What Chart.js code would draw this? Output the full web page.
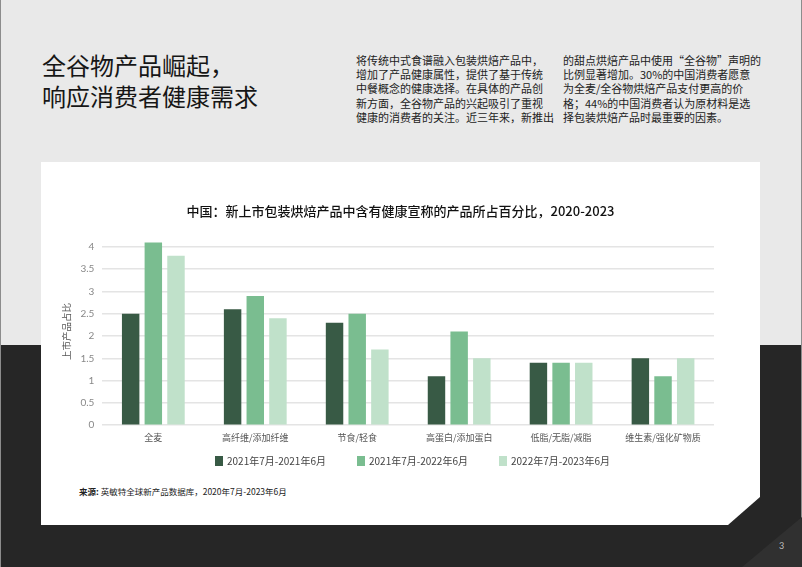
<!DOCTYPE html>
<html lang="zh-CN">
<head>
<meta charset="utf-8">
<title>全谷物产品崛起</title>
<script src="https://cdn.jsdelivr.net/npm/chart.js@4/dist/chart.umd.min.js"></script>
<style>
    html, body {
        margin: 0;
        padding: 0;
    }
    body {
        width: 802px;
        height: 567px;
        position: relative;
        overflow: hidden;
        background: #262626;
        font-family: "Noto Sans CJK SC", "Noto Sans", sans-serif;
    }
    .top-bg {
        position: absolute;
        left: 0;
        top: 0;
        width: 802px;
        height: 345px;
        background: #e9e9e9;
    }
    .edge {
        position: absolute;
        top: 0;
        bottom: 0;
        width: 1px;
        background: #8c8c8c;
    }
    .corner {
        position: absolute;
        right: 0;
        bottom: 0;
        width: 60px;
        height: 50px;
        background: #303030;
        clip-path: polygon(100% 0, 100% 100%, 0 100%);
    }
    .heading {
        position: absolute;
        left: 42px;
        top: 49px;
        font-size: 24px;
        line-height: 31px;
        color: #161616;
        white-space: nowrap;
    }
    .para {
        position: absolute;
        top: 53px;
        font-size: 11px;
        line-height: 14.2px;
        color: #222;
        white-space: nowrap;
    }
    .card {
        position: absolute;
        left: 41px;
        top: 162px;
        width: 719px;
        height: 363px;
        background: #ffffff;
        clip-path: polygon(0 0, 719px 0, 719px 335px, 687px 363px, 0 363px);
    }
    .chart-title {
        position: absolute;
        left: 0;
        top: 41px;
        width: 719px;
        text-align: center;
        font-size: 13px;
        line-height: 16px;
        font-weight: 500;
        color: #111;
        white-space: nowrap;
    }
    .chart-box {
        position: absolute;
        left: 0;
        top: 0;
        width: 719px;
        height: 298px;
    }
    .legend {
        position: absolute;
        left: 174px;
        top: 293px;
        display: flex;
        font-size: 10px;
        line-height: 12px;
        color: #444;
        white-space: nowrap;
    }
    .legend-item {
        width: 142px;
        display: flex;
        align-items: center;
    }
    .legend-box {
        width: 8px;
        height: 10px;
        margin-right: 4px;
    }
    .source {
        position: absolute;
        left: 38px;
        top: 323px;
        font-size: 8.5px;
        color: #222;
        white-space: nowrap;
    }
    .page-no {
        position: absolute;
        left: 779px;
        top: 540px;
        font-size: 9px;
        color: #bbb;
        font-family: Lato, sans-serif;
    }
</style>
</head>
<body>
<div class="top-bg"></div>
<div class="edge" style="left:0"></div>
<div class="edge" style="right:0"></div>
<div class="corner"></div>

<div class="heading">全谷物产品崛起，<br>响应消费者健康需求</div>

<div class="para" style="left:356px">
将传统中式食谱融入包装烘焙产品中，<br>
增加了产品健康属性，提供了基于传统<br>
中餐概念的健康选择。在具体的产品创<br>
新方面，全谷物产品的兴起吸引了重视<br>
健康的消费者的关注。近三年来，新推出
</div>
<div class="para" style="left:563px">
的甜点烘焙产品中使用“全谷物”声明的<br>
比例显著增加。30%的中国消费者愿意<br>
为全麦/全谷物烘焙产品支付更高的价<br>
格；44%的中国消费者认为原材料是选<br>
择包装烘焙产品时最重要的因素。
</div>

<div class="card">
    <div class="chart-box"><canvas id="claimChart"></canvas></div>
    <div class="chart-title">中国：新上市包装烘焙产品中含有健康宣称的产品所占百分比，2020-2023</div>
    <div class="legend" id="legend"></div>
    <div class="source"><b>来源:</b> 英敏特全球新产品数据库，2020年7月-2023年6月</div>
</div>

<div class="page-no">3</div>

<script>
// 数据
const categories = ['全麦', '高纤维/添加纤维', '节食/轻食', '高蛋白/添加蛋白', '低脂/无脂/减脂', '维生素/强化矿物质'];
const periods = ['2021年7月-2021年6月', '2021年7月-2022年6月', '2022年7月-2023年6月'];
const period1 = [2.5, 2.6, 2.3, 1.1, 1.4, 1.5];
const period2 = [4.1, 2.9, 2.5, 2.1, 1.4, 1.1];
const period3 = [3.8, 2.4, 1.7, 1.5, 1.4, 1.5];
const yTicks = [0, 0.5, 1, 1.5, 2, 2.5, 3, 3.5, 4];

const colors = ['#385a45', '#7abd90', '#c0e1ca'];
const cjk = '"Noto Sans CJK SC", "Noto Sans", sans-serif';

function buildDataset(label, data, color) {
    return {
        label: label,
        data: data,
        backgroundColor: color,
        borderWidth: 0,
        categoryPercentage: 0.667,
        barPercentage: 0.77
    };
}

// 图例 (HTML)
function buildLegend() {
    const legend = document.getElementById('legend');
    periods.forEach((label, i) => {
        const item = document.createElement('div');
        item.className = 'legend-item';
        const box = document.createElement('span');
        box.className = 'legend-box';
        box.style.background = colors[i];
        item.appendChild(box);
        item.appendChild(document.createTextNode(label));
        legend.appendChild(item);
    });
}

function initChart() {
    const ctx = document.getElementById('claimChart');
    ctx.chart = new Chart(ctx, {
        type: 'bar',
        data: {
            labels: categories,
            datasets: [
                buildDataset(periods[0], period1, colors[0]),
                buildDataset(periods[1], period2, colors[1]),
                buildDataset(periods[2], period3, colors[2])
            ]
        },
        options: {
            responsive: true,
            maintainAspectRatio: false,
            animation: false,
            layout: {
                padding: { top: 76, left: 19, right: 46, bottom: 10 }
            },
            plugins: {
                legend: { display: false },
                tooltip: { enabled: false }
            },
            scales: {
                x: {
                    grid: { display: false, drawTicks: false },
                    border: { display: false },
                    ticks: {
                        color: '#555',
                        font: { family: cjk, size: 9 },
                        padding: 7,
                        maxRotation: 0
                    }
                },
                y: {
                    min: 0,
                    max: 4.2,
                    afterBuildTicks: function(scale) {
                        // 只保留 0.5 间隔的刻度
                        scale.ticks = yTicks.map(v => ({ value: v }));
                    },
                    grid: {
                        color: '#e4e4e4',
                        lineWidth: 1.5,
                        drawTicks: false
                    },
                    border: { display: false },
                    ticks: {
                        color: '#888',
                        font: { family: 'Lato, sans-serif', size: 10 },
                        padding: 8,
                        callback: value => String(value)
                    },
                    title: {
                        display: true,
                        text: '上市产品占比',
                        color: '#555',
                        font: { family: cjk, size: 9.5 },
                        padding: { top: 1, bottom: 0 }
                    }
                }
            }
        }
    });
}

document.addEventListener('DOMContentLoaded', function() {
    buildLegend();
    initChart();
});
</script>
</body>
</html>
